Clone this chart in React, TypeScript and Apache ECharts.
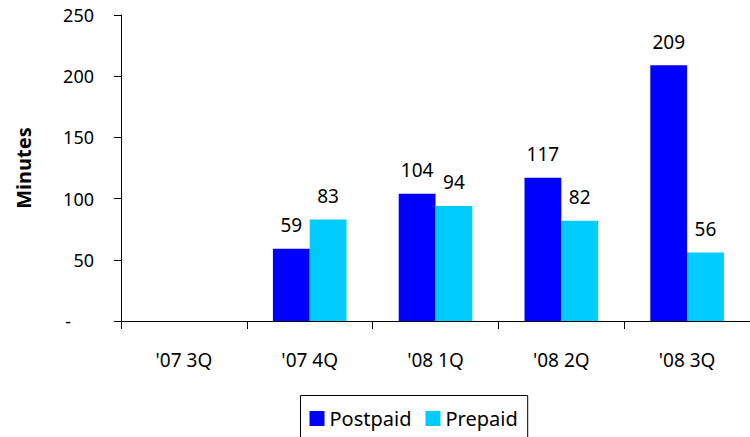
import React, { useEffect, useRef } from "react";
import * as echarts from "echarts";

const categories = ["'07 3Q", "'07 4Q", "'08 1Q", "'08 2Q", "'08 3Q"];
const postpaid: (number | null)[] = [null, 59, 104, 117, 209];
const prepaid: (number | null)[] = [null, 83, 94, 82, 56];
const seriesNames = ["Postpaid", "Prepaid"];
const yAxisTitle = "Minutes";

const FONT = "Noto Sans";

export default function App() {
  const ref = useRef<HTMLDivElement>(null);
  useEffect(() => {
    if (!ref.current) return;
    const chart = echarts.init(ref.current, null, { renderer: "svg" });
    const labelStyle = {
      show: true,
      position: "top" as const,
      distance: 14,
      color: "#000",
      fontSize: 19,
      fontFamily: FONT,
    };
    chart.setOption({
      animation: false,
      backgroundColor: "#fff",
      textStyle: { fontFamily: FONT },
      grid: { left: 121, top: 15, width: 633, height: 306, containLabel: false },
      legend: {
        data: seriesNames,
        left: 300.5,
        top: 395.5,
        orient: "horizontal",
        itemWidth: 15,
        itemHeight: 15,
        itemGap: 14,
        borderColor: "#000",
        borderWidth: 1,
        borderRadius: 0,
        padding: [13, 10, 14, 9],
        icon: "rect",
        textStyle: { fontSize: 20, color: "#000", fontFamily: FONT },
      },
      xAxis: {
        type: "category",
        data: categories,
        axisLine: { lineStyle: { color: "#000", width: 1 } },
        axisTick: { show: true, length: 8, lineStyle: { color: "#000" } },
        axisLabel: { color: "#000", fontSize: 19, fontFamily: FONT, margin: 29 },
        splitLine: { show: false },
      },
      yAxis: {
        type: "value",
        min: 0,
        max: 250,
        interval: 50,
        name: yAxisTitle,
        nameLocation: "middle",
        nameGap: 88,
        nameTextStyle: { fontSize: 20, fontWeight: "bold", color: "#000", fontFamily: FONT },
        axisLine: { show: true, lineStyle: { color: "#000", width: 1 } },
        axisTick: { show: true, length: 7, lineStyle: { color: "#000" } },
        axisLabel: {
          color: "#000",
          fontSize: 18,
          fontFamily: FONT,
          margin: 27,
          formatter: (v: number) => (v === 0 ? "{d|-}" : String(v)),
          rich: { d: { fontSize: 18, fontFamily: FONT, color: "#000", padding: [0, 23, 0, 0] } },
        },
        splitLine: { show: false },
      },
      series: [
        {
          name: seriesNames[0],
          type: "bar",
          data: postpaid,
          itemStyle: { color: "#0000FF" },
          barGap: "0%",
          barCategoryGap: "41.5%",
          label: labelStyle,
        },
        {
          name: seriesNames[1],
          type: "bar",
          data: prepaid,
          itemStyle: { color: "#00CCFF" },
          barGap: "0%",
          barCategoryGap: "41.5%",
          label: labelStyle,
        },
      ],
    });
    return () => chart.dispose();
  }, []);
  return (
    <div
      ref={ref}
      style={{ position: "fixed", left: 0, top: 0, width: 750, height: 437 }}
    />
  );
}
